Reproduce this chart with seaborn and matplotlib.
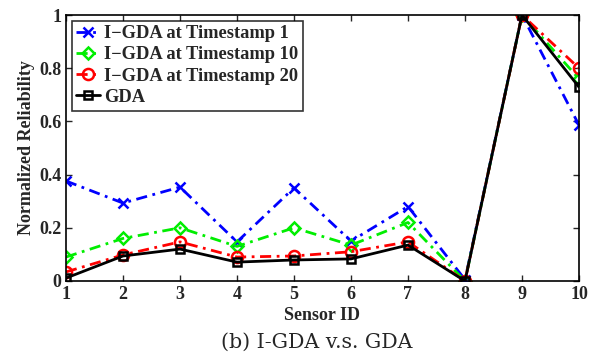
import pandas as pd
import seaborn as sns
import matplotlib.pyplot as plt

# Values
sensors = [1, 2, 3, 4, 5, 6, 7, 8, 9, 10]
ts1 = [0.376, 0.293, 0.353, 0.147, 0.350, 0.150, 0.280, 0.005, 1.0, 0.586]
ts10 = [0.090, 0.160, 0.200, 0.130, 0.200, 0.135, 0.220, 0.0, 1.0, 0.760]
ts20 = [0.034, 0.098, 0.147, 0.090, 0.094, 0.110, 0.147, 0.0, 1.0, 0.800]
gda = [0.011, 0.094, 0.120, 0.071, 0.079, 0.083, 0.135, 0.0, 1.0, 0.729]

labels = ['I\u2212GDA at Timestamp 1', 'I\u2212GDA at Timestamp 10',
          'I\u2212GDA at Timestamp 20', 'GDA']
series = [ts1, ts10, ts20, gda]

sns.set_style('ticks')
plt.rcParams['font.family'] = ['Liberation Serif', 'DejaVu Serif']
plt.rcParams['font.weight'] = 'bold'

fig = plt.figure(figsize=(6.01, 3.53), dpi=100)
ax = fig.add_axes([0.1098, 0.204, 0.8536, 0.7535])

dashdot = (0, (4, 2, 1, 2))
styles = [('blue', 'x', dashdot, 7),
          ('#00ee00', 'D', dashdot, 6),
          ('red', 'o', dashdot, 8),
          ('black', 's', '-', 6)]

for vals, label, (color, marker, ls, ms) in zip(series, labels, styles):
    df = pd.DataFrame({'Sensor ID': sensors, 'Normalized Reliability': vals})
    sns.lineplot(data=df, x='Sensor ID', y='Normalized Reliability', ax=ax,
                 color=color, marker=marker, linestyle=ls, linewidth=2,
                 markersize=ms, markerfacecolor='none',
                 markeredgecolor=color, markeredgewidth=1.8, label=label)

ax.set_xlim(1, 10)
ax.set_ylim(0, 1)
ax.set_xticks(sensors)
ax.set_yticks([0, 0.2, 0.4, 0.6, 0.8, 1])
ax.set_yticklabels(['0', '0.2', '0.4', '0.6', '0.8', '1'])
ax.tick_params(direction='in', top=True, right=True, labelsize=13, width=1, length=4)
for lab in ax.get_xticklabels() + ax.get_yticklabels():
    lab.set_fontweight('bold')
for sp in ax.spines.values():
    sp.set_linewidth(1.2)
    sp.set_color('black')

ax.set_xlabel('Sensor ID', fontsize=13, fontweight='bold', labelpad=3)
ax.set_ylabel('Normalized Reliability', fontsize=13, fontweight='bold', labelpad=3)

leg = ax.legend(loc='upper left', fontsize=13.3, frameon=True, fancybox=False,
                borderaxespad=0.3, handlelength=1.3, handletextpad=0.2,
                labelspacing=0.23, borderpad=0.25)
leg.get_frame().set_edgecolor('black')
leg.get_frame().set_linewidth(1.2)
for t in leg.get_texts():
    t.set_fontweight('bold')

fig.text(0.527, 0.031, '(b) I-GDA v.s. GDA', ha='center', va='center',
         fontsize=14.8, fontweight='normal', family=['DejaVu Serif'])

fig.savefig('out.png', dpi=100)
